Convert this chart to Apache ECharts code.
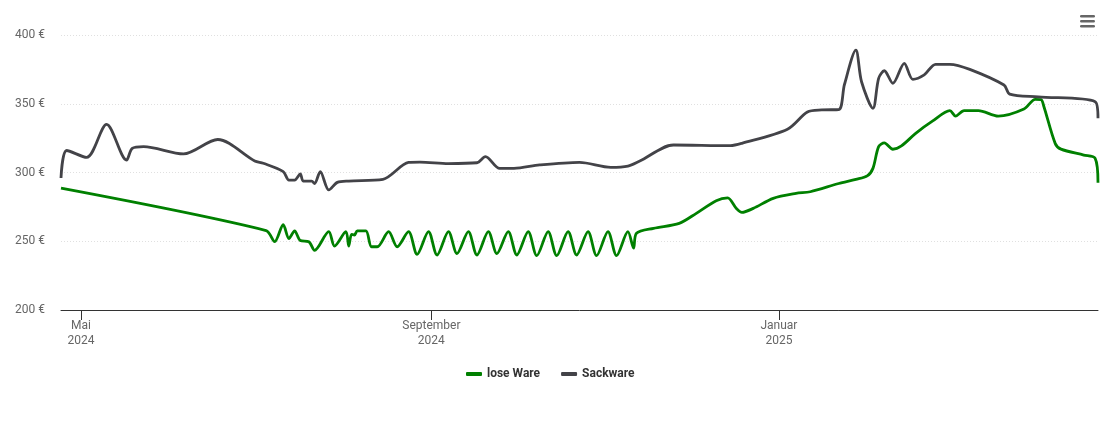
<!DOCTYPE html>
<html>
<head>
<meta charset="utf-8">
<script src="https://cdn.jsdelivr.net/npm/echarts@6/dist/echarts.min.js"></script>
<style>
html,body{margin:0;padding:0;background:#fff;}
#chart{width:1109px;height:422px;}
</style>
</head>
<body>
<div id="chart"></div>
<script>
var seriesNames = ['lose Ware', 'Sackware'];

var loseDates = ['2024-04-24','2024-07-05','2024-07-08','2024-07-11','2024-07-13','2024-07-15','2024-07-17','2024-07-20','2024-07-22','2024-07-27','2024-07-29','2024-08-02','2024-08-03','2024-08-04','2024-08-05','2024-08-06','2024-08-09','2024-08-11','2024-08-13','2024-08-17','2024-08-20','2024-08-24','2024-08-27','2024-08-31','2024-09-03','2024-09-07','2024-09-10','2024-09-14','2024-09-17','2024-09-21','2024-09-24','2024-09-28','2024-10-01','2024-10-05','2024-10-08','2024-10-12','2024-10-15','2024-10-19','2024-10-22','2024-10-26','2024-10-29','2024-11-02','2024-11-05','2024-11-09','2024-11-11','2024-11-12','2024-11-18','2024-11-27','2024-12-03','2024-12-10','2024-12-14','2024-12-17','2024-12-19','2024-12-23','2024-12-30','2025-01-07','2025-01-12','2025-01-22','2025-01-28','2025-02-01','2025-02-03','2025-02-05','2025-02-07','2025-02-10','2025-02-13','2025-02-18','2025-02-24','2025-03-02','2025-03-04','2025-03-07','2025-03-12','2025-03-19','2025-03-28','2025-04-01','2025-04-03','2025-04-04','2025-04-08','2025-04-10','2025-04-18','2025-04-22','2025-04-23'];
var loseValues = [288.6,257.8,249.7,262,252,257.5,250.5,249.7,243.4,257,246.5,257,246.5,255,254.5,257.5,257.5,246,246,257,246,257,240.5,257,240,257,241,257,240,257,241,257,240,257,239.5,257,239.5,257,240,257,239.5,257,239.5,257,245,255.8,259.4,263,270.3,279.5,281.5,274,271,273.9,281.2,284.8,286,292,295,297.5,303,318.8,321.5,316.9,319.3,328.5,337.5,345,341,345,345,341,346.2,353.2,353,348,321,317,312.7,310.3,292.5];

var sackDates = ['2024-04-24','2024-04-26','2024-05-03','2024-05-10','2024-05-17','2024-05-19','2024-05-23','2024-06-06','2024-06-18','2024-07-01','2024-07-04','2024-07-11','2024-07-13','2024-07-15','2024-07-17','2024-07-18','2024-07-21','2024-07-22','2024-07-24','2024-07-27','2024-07-30','2024-08-03','2024-08-15','2024-08-24','2024-08-28','2024-09-07','2024-09-17','2024-09-20','2024-09-25','2024-09-30','2024-10-09','2024-10-23','2024-11-03','2024-11-09','2024-11-13','2024-11-25','2024-12-15','2024-12-19','2025-01-04','2025-01-11','2025-01-16','2025-01-22','2025-01-24','2025-01-28','2025-01-30','2025-02-03','2025-02-05','2025-02-07','2025-02-10','2025-02-14','2025-02-17','2025-02-21','2025-02-25','2025-03-02','2025-03-09','2025-03-21','2025-03-23','2025-04-02','2025-04-22','2025-04-23'];
var sackValues = [296,316,311,335,309,317.5,318.8,313.5,324,308.4,306.7,300.6,294.5,294.5,299,293.8,293.8,292,300.6,287.3,292.8,293.8,295,307.3,307.6,306.5,307.1,311.5,303,303,305.5,307.4,303.8,304.7,308.2,320,319.5,321.2,331.5,344,345.5,345.8,364,389,366,346.7,368.5,374,364.9,379.4,367.8,371,378.7,378.7,375,363.6,357,355,351.5,339.4];

var xTickDates = ['2024-05-01','2024-09-01','2025-01-01'];
var xRange = ['2024-04-24','2025-04-23'];
var yTicks = [200, 250, 300, 350, 400];
var monthNames = ['Januar','Februar','März','April','Mai','Juni','Juli','August','September','Oktober','November','Dezember'];

function ts(s){ var p = s.split('-'); return new Date(+p[0], +p[1]-1, +p[2]).getTime(); }
function pairs(d, v){ return d.map(function(x, i){ return [ts(x), v[i]]; }); }

var chart = echarts.init(document.getElementById('chart'), null, {renderer:'canvas'});
var font = 'Roboto, "DejaVu Sans", sans-serif';
chart.setOption({
  animation: false,
  grid: {left: 61, right: 11, top: 35, bottom: 112, containLabel: false},
  xAxis: {
    type: 'value',
    min: ts(xRange[0]),
    max: ts(xRange[1]),
    axisLine: {show: true, lineStyle: {color: '#333333', width: 1}},
    axisTick: {show: true, length: 10, lineStyle: {color: '#333333'}, customValues: xTickDates.map(ts)},
    splitLine: {show: false},
    axisLabel: {
      customValues: xTickDates.map(ts),
      color: '#666666', fontFamily: font, fontSize: 12, lineHeight: 15, margin: 8,
      formatter: function(val){ var d = new Date(val); return monthNames[d.getMonth()] + '\n' + d.getFullYear(); }
    }
  },
  yAxis: {
    type: 'value', min: yTicks[0], max: yTicks[yTicks.length-1], interval: 50,
    axisLine: {show: false}, axisTick: {show: false},
    splitLine: {show: true, lineStyle: {color: '#e0e0e0', type: [1, 2], width: 1}},
    axisLabel: {color: '#666666', fontFamily: font, fontSize: 12, margin: 16, formatter: '{value} €'}
  },
  legend: {
    bottom: 37, left: 461, itemGap: 21, itemWidth: 16, itemHeight: 4, icon: 'roundRect',
    textStyle: {color: '#333333', fontWeight: 'bold', fontSize: 12, fontFamily: font},
    data: seriesNames
  },
  graphic: [{
    type: 'group', right: 14, top: 15,
    children: [
      {type: 'rect', shape: {x: 0, y: 0, width: 15, height: 2.6, r: 1.3}, style: {fill: '#666666'}},
      {type: 'rect', shape: {x: 0, y: 5, width: 15, height: 2.6, r: 1.3}, style: {fill: '#666666'}},
      {type: 'rect', shape: {x: 0, y: 10, width: 15, height: 2.6, r: 1.3}, style: {fill: '#666666'}}
    ]
  }],
  series: [
    {name: seriesNames[0], type: 'line', data: pairs(loseDates, loseValues), smooth: 0.3, showSymbol: false, symbol: 'none',
     lineStyle: {color: '#008000', width: 2.8}, itemStyle: {color: '#008000'}},
    {name: seriesNames[1], type: 'line', data: pairs(sackDates, sackValues), smooth: 0.3, showSymbol: false, symbol: 'none',
     lineStyle: {color: '#434348', width: 2.8}, itemStyle: {color: '#434348'}}
  ]
});
</script>
</body>
</html>
